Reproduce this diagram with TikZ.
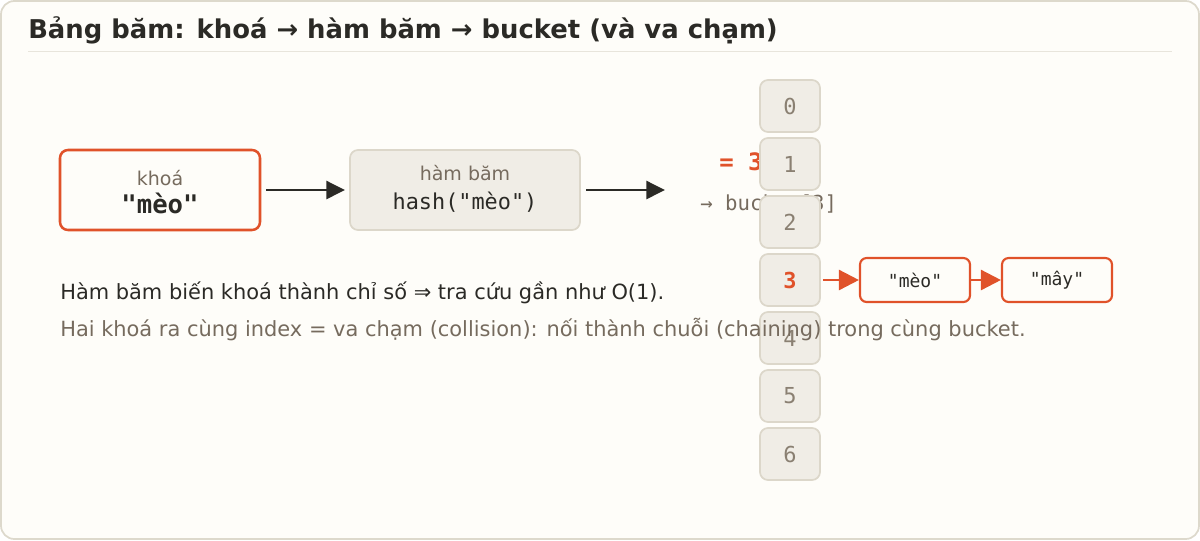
\documentclass[tikz,border=0pt]{standalone}
\usepackage{fontspec}
\setmainfont{DejaVu Sans}
\setmonofont{DejaVu Sans Mono}
\usetikzlibrary{arrows.meta}
\definecolor{bg}{HTML}{FEFDF9}
\definecolor{frame}{HTML}{DDD9CC}
\definecolor{sep}{HTML}{E8E5DC}
\definecolor{ink}{HTML}{2B2A26}
\definecolor{muted}{HTML}{766B5E}
\definecolor{orng}{HTML}{E0522A}
\definecolor{boxfill}{HTML}{F0EDE6}
\definecolor{boxline}{HTML}{DCD7CA}
\definecolor{digit}{HTML}{8A8072}
\newcommand{\fs}[1]{\fontsize{#1}{#1}\selectfont}
\tikzset{
  x=0.75pt, y=-0.75pt,
  keybox/.style={draw=orng, line width=1.9pt, fill=bg, rounded corners=6pt},
  graybox/.style={draw=boxline, line width=1.3pt, fill=boxfill, rounded corners=6pt},
  bucketbox/.style={draw=boxline, line width=1.3pt, fill=boxfill, rounded corners=6pt, minimum width=45pt, minimum height=39pt, inner sep=0pt, font=\ttfamily\fs{16.5pt}, text=digit},
  chainbox/.style={draw=orng, line width=1.6pt, fill=bg, rounded corners=5pt, minimum width=82.5pt, minimum height=33pt, inner sep=0pt, font=\ttfamily\fs{13.5pt}, text=ink},
  darrow/.style={draw=ink, line width=1.9pt, -{Triangle[length=14pt,width=13.5pt]}},
  oarrow/.style={draw=orng, line width=1.9pt, -{Triangle[length=15pt,width=15pt]}},
  txt/.style={inner sep=0pt, anchor=base west},
}
\begin{document}
\begin{tikzpicture}
\useasboundingbox (0,0) rectangle (1200,540);
\draw[draw=frame, fill=bg, line width=1.3pt, rounded corners=10pt] (1,1) rectangle (1199,539);
\node[txt, font=\bfseries\fs{19.4pt}, text=ink] (title) at (28,38) {Bảng băm: khoá → hàm băm → bucket (và va chạm)};
\draw[sep, line width=1pt] (28,51.5) -- (1172,51.5);

% key box
\node[keybox, minimum width=150pt, minimum height=60pt] (key) at (160,190) {};
\node[anchor=base, inner sep=0pt, font=\fs{14.25pt}, text=muted] (keylbl) at (160,185) {khoá};
\node[anchor=base, inner sep=0pt, font=\ttfamily\bfseries\fs{19.2pt}, text=ink] (keyval) at (160,213) {"mèo"};

% hash box
\node[graybox, minimum width=172.5pt, minimum height=60pt] (hash) at (465,190) {};
\node[anchor=base, inner sep=0pt, font=\fs{14.25pt}, text=muted] (hashlbl) at (465,180) {hàm băm};
\node[anchor=base, inner sep=0pt, font=\ttfamily\fs{16.4pt}, text=ink] (hashfn) at (465,209) {hash("mèo")};

\coordinate (a1s) at (266,190);
\coordinate (a1e) at (345,190);
\coordinate (a2s) at (586,190);
\coordinate (a2e) at (665,190);
\draw[darrow] (a1s) -- (a1e);
\draw[darrow] (a2s) -- (a2e);

\node[txt, font=\ttfamily\bfseries\fs{18pt}, text=orng] (eq) at (719,170) {= 3};
\node[txt, font=\ttfamily\fs{15.5pt}, text=muted] (bref) at (700,210) {→ bucket[3]};

% buckets
\foreach \i in {0,1,2,4,5,6} {
  \node[bucketbox] (b\i) at (790,{106+58*\i}) {\i};
}
\node[bucketbox, text=orng, font=\ttfamily\bfseries\fs{16.5pt}] (b3) at (790,280) {3};

% explanation lines (drawn over the bucket column)
\node[txt, font=\fs{15.7pt}, text=ink] (line1) at (60,299) {Hàm băm biến khoá thành chỉ số ⇒ tra cứu gần như O(1).};
\node[txt, font=\fs{15.7pt}, text=muted] (line2) at (60,336) {Hai khoá ra cùng index = va chạm (collision): nối thành chuỗi (chaining) trong cùng bucket.};

% chain
\node[chainbox] (c1) at (915,280) {"mèo"};
\node[chainbox] (c2) at (1057,280) {"mây"};
\draw[oarrow] (b3.east) ++(2,0) -- (c1.west);
\draw[oarrow] (c1) -- (c2);
\end{tikzpicture}
\end{document}
